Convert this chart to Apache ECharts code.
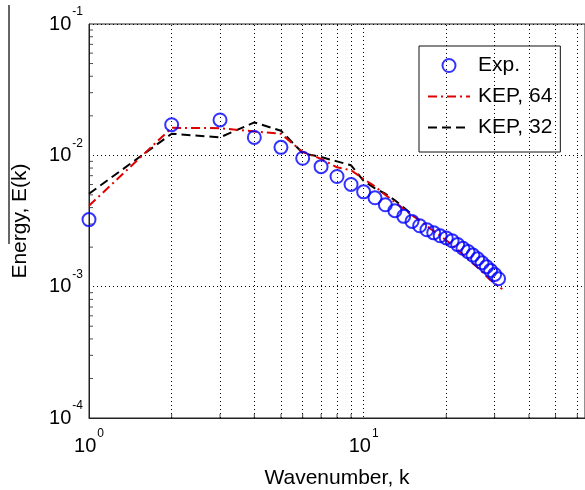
<!DOCTYPE html>
<html>
<head>
<meta charset="utf-8">
<script src="https://cdn.jsdelivr.net/npm/echarts@6/dist/echarts.min.js"></script>
<style>
html,body{margin:0;padding:0;background:#fff;}
#chart{width:585px;height:490px;}
</style>
</head>
<body>
<div id="chart"></div>
<script>
// ---- data ----
var expK = [1,2,3,4,5,6,7,8,9,10,11,12,13,14,15,16,17,18,19,20,21,22,23,24,25,26,27,28,29,30,31];
var expE = [3.24e-3,1.71e-2,1.86e-2,1.37e-2,1.15e-2,9.5e-3,8.2e-3,6.9e-3,6.0e-3,5.27e-3,4.75e-3,4.2e-3,3.79e-3,3.43e-3,3.14e-3,2.91e-3,2.71e-3,2.57e-3,2.44e-3,2.35e-3,2.24e-3,2.09e-3,1.96e-3,1.85e-3,1.74e-3,1.63e-3,1.52e-3,1.42e-3,1.33e-3,1.24e-3,1.15e-3];
var kep64K = [1,2,3,4,5,6,7,8,9,10,11,12,13,14,15,16,17,18,19,20,21,22,23,24,25,26,27,28,29,30,31,32];
var kep64E = [4.13e-3,1.62e-2,1.61e-2,1.52e-2,1.46e-2,1.06e-2,9.4e-3,8.1e-3,7.7e-3,6.6e-3,5.8e-3,5.0e-3,4.4e-3,3.9e-3,3.5e-3,3.2e-3,2.9e-3,2.65e-3,2.45e-3,2.25e-3,2.08e-3,1.92e-3,1.75e-3,1.62e-3,1.5e-3,1.4e-3,1.3e-3,1.2e-3,1.12e-3,1.06e-3,1.0e-3,9.6e-4];
var kep32K = [1,2,3,4,5,6,7,8,9,10,11,12,13,14,15];
var kep32E = [5.1e-3,1.46e-2,1.37e-2,1.78e-2,1.54e-2,1.04e-2,9.7e-3,9.0e-3,8.4e-3,6.4e-3,5.6e-3,5.1e-3,4.55e-3,4.0e-3,3.55e-3];
var seriesNames = ['Exp.', 'KEP, 64', 'KEP, 32'];
var xMinorGrid = [2,3,4,5,6,7,8,9,20,30,40,50,60];
var yMinorTicks = [2e-4,3e-4,4e-4,5e-4,6e-4,7e-4,8e-4,9e-4,2e-3,3e-3,4e-3,5e-3,6e-3,7e-3,8e-3,9e-3,2e-2,3e-2,4e-2,5e-2,6e-2,7e-2,8e-2,9e-2];
var xRange = [1, 64];
var yRange = [1e-4, 1e-1];
var xName = 'Wavenumber, k';
var yName = 'Energy, E(k)';

var FONT = 'Liberation Sans';
function zip(a, b){ return a.map(function(v,i){ return [v, b[i]]; }); }
function powFmt(v){
  var l = Math.log(v)/Math.LN10;
  var e = Math.round(l);
  if (Math.abs(l - e) > 1e-6) return '';
  return '{b|10}{s|' + e + '}';
}
var rich = {
  b: {fontSize: 20, fontFamily: FONT, color: '#000', lineHeight: 36},
  s: {fontSize: 12, fontFamily: FONT, color: '#000', lineHeight: 12, verticalAlign: 'top', padding: [0,0,0,1]}
};
var dotted = {color: '#000', type: [1,3], width: 1};
var noSym = {color: 'rgba(0,0,0,0)', borderWidth: 0, opacity: 0};

var chart = echarts.init(document.getElementById('chart'), null, {renderer: 'canvas'});
chart.setOption({
  backgroundColor: '#fff',
  animation: false,
  grid: {left: 89, top: 24, right: 0, bottom: 72, show: true, borderColor: '#222', borderWidth: 1, containLabel: false, outerBoundsMode: 'none'},
  xAxis: {
    type: 'log', logBase: 10, min: xRange[0], max: xRange[1],
    name: xName, nameLocation: 'middle', nameGap: 50,
    nameTextStyle: {fontSize: 21, fontFamily: FONT, color: '#000'},
    axisLine: {show: true, lineStyle: {color: '#222', width: 1}},
    axisTick: {show: false},
    minorTick: {show: false},
    splitLine: {show: true, lineStyle: dotted},
    axisLabel: {formatter: powFmt, rich: rich, margin: 10, showMaxLabel: false}
  },
  yAxis: {
    type: 'log', logBase: 10, min: yRange[0], max: yRange[1],
    name: yName, nameLocation: 'middle', nameGap: 58, nameRotate: 90,
    nameTextStyle: {fontSize: 21, fontFamily: FONT, color: '#000'},
    axisLine: {show: true, lineStyle: {color: '#222', width: 1}},
    axisTick: {show: false},
    minorTick: {show: false},
    splitLine: {show: true, lineStyle: dotted},
    axisLabel: {formatter: powFmt, rich: rich, margin: 6}
  },
  legend: {
    data: [
      {name: seriesNames[0], icon: 'circle', itemStyle: {color: 'rgba(0,0,0,0)', borderColor: '#0000ff', borderWidth: 2}},
      {name: seriesNames[1], itemStyle: noSym},
      {name: seriesNames[2], itemStyle: noSym}
    ],
    orient: 'vertical', left: 419, top: 46,
    padding: [9, 8, 14, 8], itemGap: 10, itemWidth: 42, itemHeight: 13,
    backgroundColor: '#fff', borderColor: '#111', borderWidth: 1,
    textStyle: {fontSize: 21, fontFamily: FONT, color: '#000', padding: [0,0,0,3]},
    selectedMode: false
  },
  graphic: [
    {type: 'line', shape: {x1: 9, y1: 5, x2: 9, y2: 244}, style: {stroke: '#666', lineWidth: 2}, silent: true}
  ],
  series: [
    {
      name: 'grid-minor', type: 'line', data: [], z: 1, silent: true,
      markLine: {silent: true, symbol: ['none','none'], label: {show: false}, animation: false,
        lineStyle: dotted, data: xMinorGrid.map(function(v){ return {xAxis: v}; })}
    },
    {
      name: 'ytick', type: 'scatter', data: yMinorTicks.map(function(v){ return [xRange[0], v]; }),
      symbol: 'rect', symbolSize: [4, 1], symbolOffset: [2, 0], silent: true, clip: false, z: 2,
      itemStyle: {color: '#222'}
    },
    {
      name: 'xtick', type: 'scatter', data: xMinorGrid.map(function(v){ return [v, yRange[0]]; }),
      symbol: 'rect', symbolSize: [1, 4], symbolOffset: [0, -2], silent: true, clip: false, z: 2,
      itemStyle: {color: '#222'}
    },
    {
      name: seriesNames[0], type: 'scatter', data: zip(expK, expE), z: 5,
      symbol: 'circle', symbolSize: 13, clip: false,
      itemStyle: {color: 'rgba(0,0,0,0)', borderColor: '#0000ff', borderWidth: 2}
    },
    {
      name: seriesNames[1], type: 'line', data: zip(kep64K, kep64E), z: 4,
      showSymbol: false, symbol: 'none', color: '#e00000',
      lineStyle: {color: '#e00000', width: 2, type: [9,4,2,4]}
    },
    {
      name: seriesNames[2], type: 'line', data: zip(kep32K, kep32E), z: 3,
      showSymbol: false, symbol: 'none', color: '#000',
      lineStyle: {color: '#000', width: 2, type: [9,5]}
    }
  ]
});
</script>
</body>
</html>
